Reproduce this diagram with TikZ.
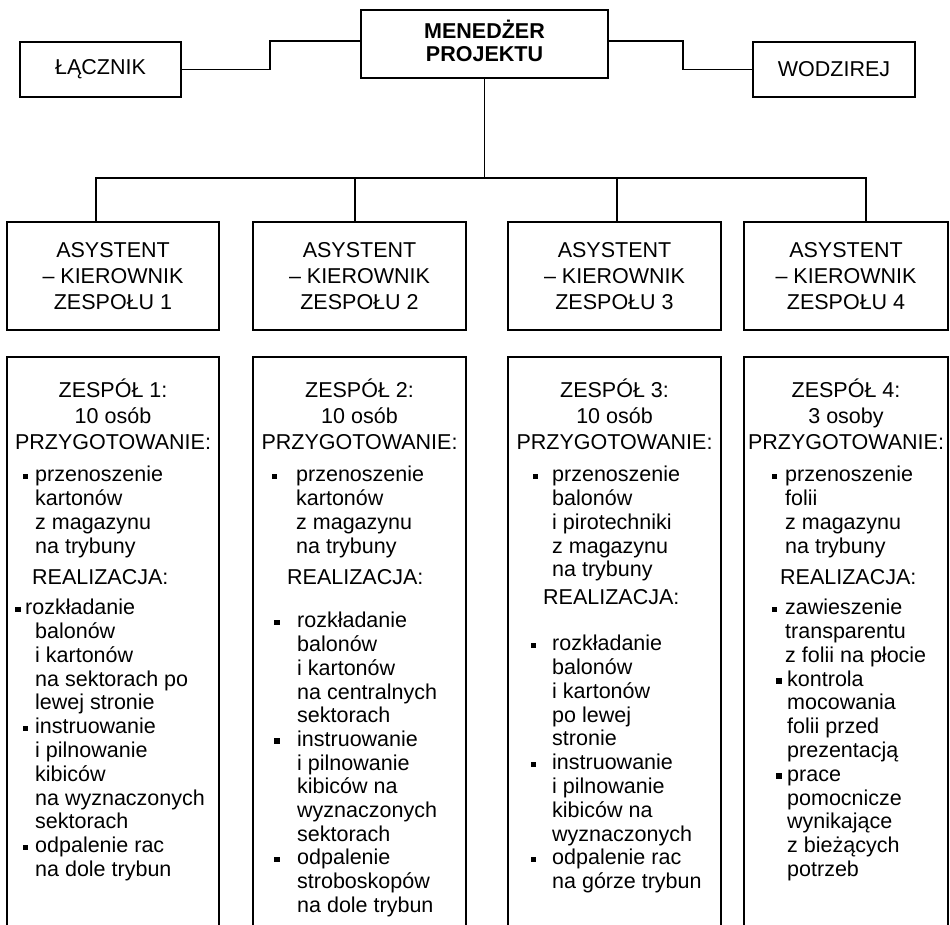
\documentclass[tikz,border=0pt]{standalone}
\usepackage{fontspec}
\setmainfont{Liberation Sans}
% fixed height for the first line of every text block
\newcommand\firstln{\rule{0pt}{23pt}}
\begin{document}
\begin{tikzpicture}[x=1pt,y=-1pt,
  every node/.style={font=\fontsize{21.5}{23.8}\selectfont, inner sep=0pt},
  frame/.style={draw, line width=1.5pt, align=center},
  link/.style={line width=1.5pt},
  head/.style={anchor=north, align=center, font=\fontsize{21.5}{26}\selectfont},
  item/.style={anchor=north west, align=left},
  sq/.style={fill=black, minimum size=5.5pt, inner sep=0pt},
  team/.style={draw, line width=1.5pt, minimum height=600pt, anchor=north},
  lead/.style={frame, minimum height=108pt, font=\fontsize{21.5}{26}\selectfont},
]
\useasboundingbox (0,0) rectangle (950,925);

% ---- top level ----
\node[frame, minimum width=247pt, minimum height=68pt,
      font=\fontsize{21.5}{23}\selectfont\bfseries] (man) at (484.5,44)
      {MENEDŻER\\PROJEKTU\rule[-6pt]{0pt}{0pt}};
\node[frame, minimum width=161pt, minimum height=55pt] (lacz) at (100.5,69.5) {ŁĄCZNIK};
\node[frame, minimum width=162pt, minimum height=55pt] (wodz) at (834,69.5) {WODZIREJ};

\coordinate (ljog) at (270,0);
\coordinate (rjog) at (683,0);
\draw[link] (lacz.east) -- (lacz.east -| ljog) |- (man.west |- lacz.north);
\draw[link] (wodz.west) -- (wodz.west -| rjog) |- (man.east |- wodz.north);

% ---- team leaders ----
\node[lead, minimum width=212pt] (as1) at (113,276) {ASYSTENT\\– KIEROWNIK\\ZESPOŁU 1};
\node[lead, minimum width=213pt] (as2) at (359.5,276) {ASYSTENT\\– KIEROWNIK\\ZESPOŁU 2};
\node[lead, minimum width=213pt] (as3) at (614.5,276) {ASYSTENT\\– KIEROWNIK\\ZESPOŁU 3};
\node[lead, minimum width=204pt] (as4) at (846,276) {ASYSTENT\\– KIEROWNIK\\ZESPOŁU 4};

\coordinate (d1) at (96,178);
\coordinate (d2) at (355,178);
\coordinate (d3) at (617,178);
\coordinate (d4) at (866,178);
\draw[link] (man.south) -- (man.south |- d1);
\draw[link] (d1 |- as1.north) -- (d1) -- (d4) -- (d4 |- as4.north);
\draw[link] (d2) -- (d2 |- as2.north);
\draw[link] (d3) -- (d3 |- as3.north);

% ---- team boxes (open towards the bottom edge) ----
\node[team, minimum width=212pt] (t1) at (113,356) {};
\node[team, minimum width=213pt] (t2) at (359.5,356) {};
\node[team, minimum width=213pt] (t3) at (614.5,356) {};
\node[team, minimum width=204pt] (t4) at (846,356) {};

% team 1
\node[head] (h1) at (113,374.5) {\firstln ZESPÓŁ 1:\\10 osób\\PRZYGOTOWANIE:};
\node[sq] (b1a) at (25.5,476.5) {};
\node[item] (p1) at (35,458.5) {\firstln przenoszenie\\kartonów\\z magazynu\\na trybuny};
\node[item] (r1) at (32,561.5) {\firstln REALIZACJA:};
\node[sq] (b1b) at (18,609.5) {};
\node[item] (i1a) at (25,591.5) {\firstln rozkładanie};
\node[item] (i1a2) at (35,615.3) {\firstln balonów\\i kartonów\\na sektorach po\\lewej stronie};
\node[sq] (b1c) at (25.5,728.5) {};
\node[item] (i1b) at (35,710.5) {\firstln instruowanie\\i pilnowanie\\kibiców\\na wyznaczonych\\sektorach};
\node[sq] (b1d) at (25.5,847.5) {};
\node[item] (i1c) at (35,829.5) {\firstln odpalenie rac\\na dole trybun};

% team 2
\node[head] (h2) at (359.5,374.5) {\firstln ZESPÓŁ 2:\\10 osób\\PRZYGOTOWANIE:};
\node[sq] (b2a) at (274.5,476.5) {};
\node[item] (p2) at (296,458.5) {\firstln przenoszenie\\kartonów\\z magazynu\\na trybuny};
\node[item] (r2) at (287,561.5) {\firstln REALIZACJA:};
\node[sq] (b2b) at (277,622.5) {};
\node[item] (i2a) at (297,604.5) {\firstln rozkładanie\\balonów\\i kartonów\\na centralnych\\sektorach};
\node[sq] (b2c) at (277,741) {};
\node[item] (i2b) at (297,723) {\firstln instruowanie\\i pilnowanie\\kibiców na\\wyznaczonych\\sektorach};
\node[sq] (b2d) at (277,859.5) {};
\node[item] (i2c) at (297,841.5) {\firstln odpalenie\\stroboskopów\\na dole trybun};

% team 3
\node[head] (h3) at (614.5,374.5) {\firstln ZESPÓŁ 3:\\10 osób\\PRZYGOTOWANIE:};
\node[sq] (b3a) at (535.5,476.5) {};
\node[item] (p3) at (552,458.5) {\firstln przenoszenie\\balonów\\i pirotechniki\\z magazynu\\na trybuny};
\node[item] (r3) at (543,581.5) {\firstln REALIZACJA:};
\node[sq] (b3b) at (533.5,645.5) {};
\node[item] (i3a) at (552,627.5) {\firstln rozkładanie\\balonów\\i kartonów\\po lewej\\stronie};
\node[sq] (b3c) at (533.5,764.5) {};
\node[item] (i3b) at (552,746.5) {\firstln instruowanie\\i pilnowanie\\kibiców na\\wyznaczonych};
\node[sq] (b3d) at (533.5,859.7) {};
\node[item] (i3c) at (552,841.7) {\firstln odpalenie rac\\na górze trybun};

% team 4
\node[head] (h4) at (846,374.5) {\firstln ZESPÓŁ 4:\\3 osoby\\PRZYGOTOWANIE:};
\node[sq] (b4a) at (774.5,476.5) {};
\node[item] (p4) at (785,458.5) {\firstln przenoszenie\\folii\\z magazynu\\na trybuny};
\node[item] (r4) at (780,561.5) {\firstln REALIZACJA:};
\node[sq] (b4b) at (774.5,609.5) {};
\node[item] (i4a) at (785,591.5) {\firstln zawieszenie\\transparentu\\z folii na płocie};
\node[sq] (b4c) at (779,680.9) {};
\node[item] (i4b) at (787,662.9) {\firstln kontrola\\mocowania\\folii przed\\prezentacją};
\node[sq] (b4d) at (779,776.1) {};
\node[item] (i4c) at (787,758.1) {\firstln prace\\pomocnicze\\wynikające\\z bieżących\\potrzeb};
\end{tikzpicture}
\end{document}
